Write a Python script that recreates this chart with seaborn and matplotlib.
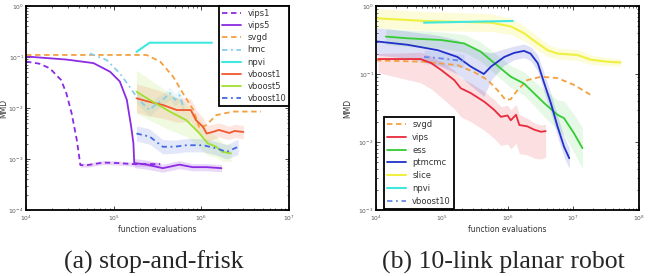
import numpy as np
import matplotlib
matplotlib.use("Agg")
import matplotlib.pyplot as plt
import seaborn as sns

# ---------------- data (log10 exponents) ----------------
# Panel (a): stop-and-frisk
a_vips1_x = [4.0, 4.15, 4.27, 4.40, 4.46, 4.52, 4.58, 4.62, 4.70, 4.88, 5.05, 5.22, 5.53]
a_vips1_y = [-1.09, -1.13, -1.22, -1.45, -1.71, -2.10, -2.63, -3.12, -3.12, -3.07, -3.08, -3.10, -3.10]
a_vips1_w = [0, 0, 0, 0, 0, 0, 0, 0.04, 0.04, 0.04, 0.04, 0.04, 0.04]

a_vips5_x = [4.0, 4.46, 4.77, 4.96, 5.07, 5.15, 5.20, 5.225, 5.235, 5.375, 5.56, 5.75, 5.90, 6.06, 6.23]
a_vips5_y = [-0.99, -1.05, -1.12, -1.29, -1.48, -1.84, -2.37, -2.69, -3.08, -3.11, -3.18, -3.11, -3.16, -3.16, -3.18]
a_vips5_w = [0, 0, 0, 0, 0, 0, 0, 0, 0.09, 0.09, 0.08, 0.08, 0.07, 0.07, 0.07]

a_svgd_x = [4.0, 5.375, 5.53, 5.68, 5.79, 5.91, 5.98, 6.06, 6.17, 6.36, 6.68]
a_svgd_y = [-0.96, -0.96, -1.09, -1.39, -1.71, -2.04, -2.40, -2.33, -2.14, -2.07, -2.07]

a_hmc_x = [4.73, 4.92, 5.07, 5.18, 5.26, 5.33, 5.41, 5.49, 5.56, 5.64, 5.70, 5.75, 5.80]
a_hmc_y = [-0.93, -1.06, -1.32, -1.58, -1.78, -1.91, -2.04, -1.91, -1.84, -1.71, -1.84, -1.75, -2.01]
a_hmc_w = [0, 0, 0, 0, 0.10, 0.12, 0.12, 0.12, 0.12, 0.12, 0.12, 0.12, 0.12]

a_npvi_x = [5.26, 5.41, 6.12]
a_npvi_y = [-0.90, -0.72, -0.72]

a_vb1_x = [5.26, 5.41, 5.56, 5.72, 5.88, 5.94, 6.02, 6.06, 6.13, 6.20, 6.32, 6.38, 6.48]
a_vb1_y = [-1.81, -1.88, -1.94, -2.04, -2.04, -2.24, -2.37, -2.50, -2.47, -2.43, -2.49, -2.45, -2.47]
a_vb1_w = [0.28, 0.28, 0.26, 0.24, 0.22, 0.2, 0.18, 0.16, 0.15, 0.14, 0.13, 0.13, 0.13]

a_vb5_x = [5.26, 5.41, 5.64, 5.83, 5.98, 6.07, 6.17, 6.24, 6.34]
a_vb5_y = [-1.68, -1.84, -2.07, -2.24, -2.50, -2.69, -2.76, -2.86, -2.89]
a_vb5_w = [0.42, 0.40, 0.36, 0.32, 0.28, 0.24, 0.2, 0.18, 0.16]

a_vb10_x = [5.26, 5.41, 5.56, 5.69, 5.83, 6.02, 6.17, 6.29, 6.42]
a_vb10_y = [-2.50, -2.56, -2.76, -2.76, -2.73, -2.73, -2.79, -2.86, -2.76]
a_vb10_w = [0.15, 0.15, 0.14, 0.13, 0.13, 0.13, 0.13, 0.14, 0.15]

# Panel (b): 10-link planar robot
b_slice_x = [4.0, 4.73, 5.75, 6.05, 6.25, 6.46, 6.61, 6.76, 7.06, 7.27, 7.52, 7.72]
b_slice_y = [-0.18, -0.22, -0.245, -0.30, -0.40, -0.55, -0.65, -0.70, -0.72, -0.79, -0.82, -0.83]
b_slice_w = [0.14, 0.14, 0.13, 0.12, 0.11, 0.10, 0.09, 0.08, 0.08, 0.07, 0.06, 0.05]

b_npvi_x = [4.73, 6.08]
b_npvi_y = [-0.245, -0.22]

b_ess_x = [4.15, 4.48, 4.99, 5.34, 5.59, 5.80, 6.05, 6.25, 6.40, 6.56, 6.76, 6.86, 7.01, 7.14]
b_ess_y = [-0.45, -0.475, -0.50, -0.55, -0.67, -0.84, -1.04, -1.14, -1.28, -1.43, -1.60, -1.65, -1.87, -2.09]
b_ess_w = [0.12, 0.12, 0.12, 0.13, 0.14, 0.15, 0.16, 0.17, 0.18, 0.2, 0.22, 0.25, 0.28, 0.3]

b_pt_x = [4.0, 4.48, 4.94, 5.24, 5.44, 5.64, 5.75, 5.95, 6.10, 6.25, 6.35, 6.46, 6.56, 6.66, 6.76, 6.86, 6.94]
b_pt_y = [-0.52, -0.57, -0.65, -0.75, -0.89, -1.00, -0.89, -0.75, -0.69, -0.66, -0.70, -0.84, -1.14, -1.43, -1.77, -2.07, -2.24]
b_pt_w = [0.2, 0.2, 0.22, 0.25, 0.28, 0.33, 0.2, 0.12, 0.1, 0.1, 0.1, 0.12, 0.14, 0.14, 0.15, 0.15, 0.15]

b_svgd_x = [4.0, 4.73, 5.24, 5.49, 5.70, 5.85, 5.97, 6.05, 6.15, 6.30, 6.51, 6.76, 7.01, 7.27]
b_svgd_y = [-0.80, -0.82, -0.87, -0.97, -1.09, -1.24, -1.38, -1.37, -1.24, -1.09, -1.04, -1.06, -1.16, -1.31]

b_vips_x = [4.03, 4.68, 4.84, 4.99, 5.19, 5.29, 5.44, 5.65, 5.80, 5.90, 6.00, 6.05, 6.13, 6.18, 6.30, 6.41, 6.51, 6.58]
b_vips_y = [-0.78, -0.78, -0.84, -0.94, -1.09, -1.21, -1.28, -1.41, -1.53, -1.63, -1.61, -1.68, -1.60, -1.75, -1.77, -1.82, -1.85, -1.84]
b_vips_lo = [0.2, 0.35, 0.38, 0.4, 0.42, 0.42, 0.42, 0.42, 0.42, 0.42, 0.42, 0.42, 0.42, 0.42, 0.42, 0.42, 0.4, 0.38]
b_vips_hi = [0.08, 0.1, 0.1, 0.12, 0.15, 0.15, 0.15, 0.15, 0.15, 0.15, 0.15, 0.15, 0.15, 0.15, 0.12, 0.1, 0.1, 0.1]

b_vb10_x = [4.73, 4.89, 5.34]
b_vb10_y = [-0.75, -0.76, -0.81]
b_vb10_w = [0.1, 0.1, 0.1]

x_label = "function evaluations"
y_label = "MMD"
captions = ["(a) stop-and-frisk", "(b) 10-link planar robot"]

# ---------------- style ----------------
sns.set_style("ticks")
plt.rcParams.update({
    "font.family": ["DejaVu Sans"],
    "xtick.direction": "in", "ytick.direction": "in",
    "xtick.top": True, "ytick.right": True,
    "xtick.major.size": 3, "ytick.major.size": 3,
    "xtick.minor.size": 1.5, "ytick.minor.size": 1.5,
    "xtick.major.width": 0.6, "ytick.major.width": 0.6,
    "xtick.minor.width": 0.5, "ytick.minor.width": 0.5,
    "axes.linewidth": 1.3, "axes.edgecolor": "black",
})

fig = plt.figure(figsize=(6.48, 2.76), dpi=100)
axA = fig.add_axes([26/648, 1-210/276, 263/648, 204/276])
axB = fig.add_axes([376/648, 1-210/276, 263/648, 204/276])


def draw(ax, xs, ys, color, ls, label, lw=1.3, w=None, lo=None, hi=None, alpha=0.18):
    x = 10 ** np.asarray(xs, float)
    yl = np.asarray(ys, float)
    sns.lineplot(x=x, y=10 ** yl, ax=ax, color=color, linestyle=ls, linewidth=lw,
                 label=label, sort=False, estimator=None)
    if w is not None:
        lo = hi = w
    if lo is not None:
        lo = np.asarray(lo, float); hi = np.asarray(hi, float)
        m = (lo > 0) | (hi > 0)
        ax.fill_between(x[m], 10 ** (yl - lo)[m], 10 ** (yl + hi)[m], color=color,
                        alpha=alpha, linewidth=0)


purple = "#8b2be2"
orange = "#f4a040"
sky = "#87ceeb"
cyan = "#40e8e0"
red1 = "#f2572f"
yg = "#a0e030"
royal = "#4169e1"

draw(axA, a_vips1_x, a_vips1_y, purple, (0, (3, 2)), "vips1", w=a_vips1_w)
draw(axA, a_vips5_x, a_vips5_y, purple, "-", "vips5", w=a_vips5_w)
draw(axA, a_svgd_x, a_svgd_y, orange, (0, (3, 2)), "svgd")
draw(axA, a_hmc_x, a_hmc_y, sky, (0, (3, 2, 1, 2)), "hmc", w=a_hmc_w)
draw(axA, a_npvi_x, a_npvi_y, cyan, "-", "npvi", lw=1.5)
draw(axA, a_vb1_x, a_vb1_y, red1, "-", "vboost1", w=a_vb1_w, alpha=0.15)
draw(axA, a_vb5_x, a_vb5_y, yg, "-", "vboost5", w=a_vb5_w, alpha=0.15)
draw(axA, a_vb10_x, a_vb10_y, royal, (0, (3, 2, 1, 2)), "vboost10", w=a_vb10_w, alpha=0.15)

draw(axB, b_svgd_x, b_svgd_y, orange, (0, (3, 2)), "svgd")
draw(axB, b_vips_x, b_vips_y, "#e82a3c", "-", "vips", lo=b_vips_lo, hi=b_vips_hi, alpha=0.15)
draw(axB, b_ess_x, b_ess_y, "#33cc33", "-", "ess", w=b_ess_w, alpha=0.12)
draw(axB, b_pt_x, b_pt_y, "#2030c8", "-", "ptmcmc", w=b_pt_w, alpha=0.15)
draw(axB, b_slice_x, b_slice_y, "#f0f040", "-", "slice", lw=1.5, w=b_slice_w, alpha=0.2)
draw(axB, b_npvi_x, b_npvi_y, cyan, "-", "npvi", lw=1.5)
draw(axB, b_vb10_x, b_vb10_y, "#6a8ae8", (0, (3, 2, 1, 2)), "vboost10", w=b_vb10_w, alpha=0.15)

for ax, xl, yl, ylx in [(axA, (1e4, 1e7), (1e-4, 1), -0.068), (axB, (1e4, 1e8), (1e-3, 1), -0.091)]:
    ax.set_xscale("log"); ax.set_yscale("log")
    ax.set_xlim(*xl); ax.set_ylim(*yl)
    ax.set_xlabel(x_label, fontsize=5.5, labelpad=1.5, color="#333333")
    ax.set_ylabel(y_label, fontsize=5.5, color="#333333")
    ax.yaxis.set_label_coords(ylx, 0.5)
    ax.tick_params(which="both", labelsize=4.3, labelcolor="#555555")
    ax.tick_params(axis="x", which="both", pad=2.5)
    ax.tick_params(axis="y", which="both", pad=1.5)
    ax.grid(False)

legA = axA.legend(loc="upper right", borderaxespad=0, fontsize=6, labelspacing=0.38,
                  handlelength=2.2, borderpad=0.35, fancybox=False, framealpha=1, edgecolor="black")
legB = axB.legend(loc="lower left", bbox_to_anchor=(0.03, 0.005), borderaxespad=0, fontsize=6,
                  labelspacing=0.45, handlelength=2.2, borderpad=0.4, fancybox=False, framealpha=1,
                  edgecolor="black")
for leg in (legA, legB):
    leg.get_frame().set_linewidth(1.3)
    for t in leg.get_texts():
        t.set_color("#333333")

fig.text(154/648, 7/276, captions[0], ha="center", va="baseline", fontsize=18.5,
         family=["Liberation Serif", "DejaVu Serif"])
fig.text(503/648, 7/276, captions[1], ha="center", va="baseline", fontsize=18.5,
         family=["Liberation Serif", "DejaVu Serif"])

fig.savefig("out.png", dpi=100)
